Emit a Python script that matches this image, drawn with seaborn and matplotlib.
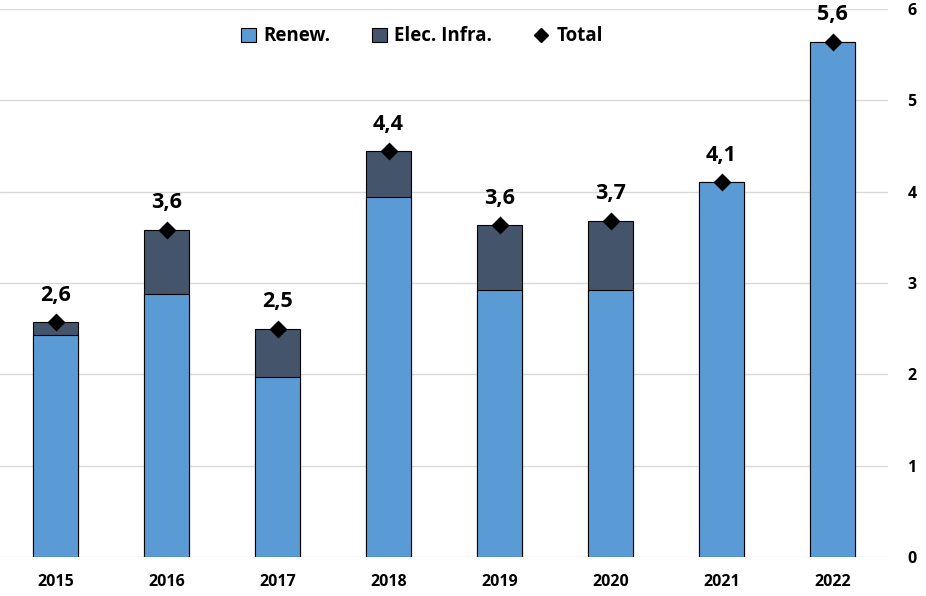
import pandas as pd
import matplotlib.pyplot as plt
import seaborn as sns
from matplotlib.patches import Patch
from matplotlib.lines import Line2D

# Data
years = ["2015", "2016", "2017", "2018", "2019", "2020", "2021", "2022"]
renew = [2.43, 2.88, 1.97, 3.94, 2.92, 2.92, 4.10, 5.64]
elec_infra = [0.14, 0.70, 0.53, 0.50, 0.71, 0.76, 0.00, 0.00]

df = pd.DataFrame({"Year": years, "Renew.": renew, "Elec. Infra.": elec_infra})
df["Total"] = df["Renew."] + df["Elec. Infra."]

sns.set_style("white")
plt.rcParams["font.family"] = ["Open Sans", "DejaVu Sans"]
plt.rcParams["text.color"] = "black"
plt.rcParams["xtick.color"] = "black"
plt.rcParams["ytick.color"] = "black"

c_renew = "#5B9BD5"
c_elec = "#44546A"

fig = plt.figure(figsize=(9.26, 5.96), dpi=100)
ax = fig.add_axes([0.0, 0.0654, 0.959, 0.9196])

# stacked bars: draw total first (elec colour), then renew over it
sns.barplot(data=df, x="Year", y="Total", color=c_elec, saturation=1,
            width=0.4, edgecolor="black", linewidth=0.8, ax=ax, zorder=2)
sns.barplot(data=df, x="Year", y="Renew.", color=c_renew, saturation=1,
            width=0.4, edgecolor="black", linewidth=0.8, ax=ax, zorder=3)
sns.pointplot(data=df, x="Year", y="Total", color="black", markers="D",
              linestyles="none", markersize=7, ax=ax, zorder=5, errorbar=None)

for i, t in enumerate(df["Total"]):
    ax.annotate(f"{t:.1f}".replace(".", ","), (i, t), xytext=(0, 12),
                textcoords="offset points", ha="center", va="bottom",
                fontsize=15.5, fontweight="bold", color="black")

ax.set_ylim(0, 6)
ax.set_xlim(-0.5, 7.5)
ax.set_yticks(range(0, 7))
ax.yaxis.tick_right()
ax.grid(axis="y", color="#d9d9d9", linewidth=1, zorder=0)
ax.set_axisbelow(True)
for s in ax.spines.values():
    s.set_visible(False)
ax.tick_params(axis="both", length=0, labelsize=11.5)
ax.tick_params(axis="x", pad=12)
ax.tick_params(axis="y", pad=14)
for lbl in ax.get_xticklabels() + ax.get_yticklabels():
    lbl.set_fontweight("bold")
ax.set_xlabel("")
ax.set_ylabel("")

handles = [
    Patch(facecolor=c_renew, edgecolor="black", linewidth=0.8, label="Renew."),
    Patch(facecolor=c_elec, edgecolor="black", linewidth=0.8, label="Elec. Infra."),
    Line2D([], [], color="black", marker="D", linestyle="none", markersize=7, label="Total"),
]
ax.legend(handles=handles, loc="center", bbox_to_anchor=(0.475, 0.95), ncol=3,
          frameon=False, prop={"weight": "bold", "size": 13.5}, handlelength=0.8,
          handleheight=0.8, handletextpad=0.4, columnspacing=2.2)

fig.savefig("out.png", dpi=100)
